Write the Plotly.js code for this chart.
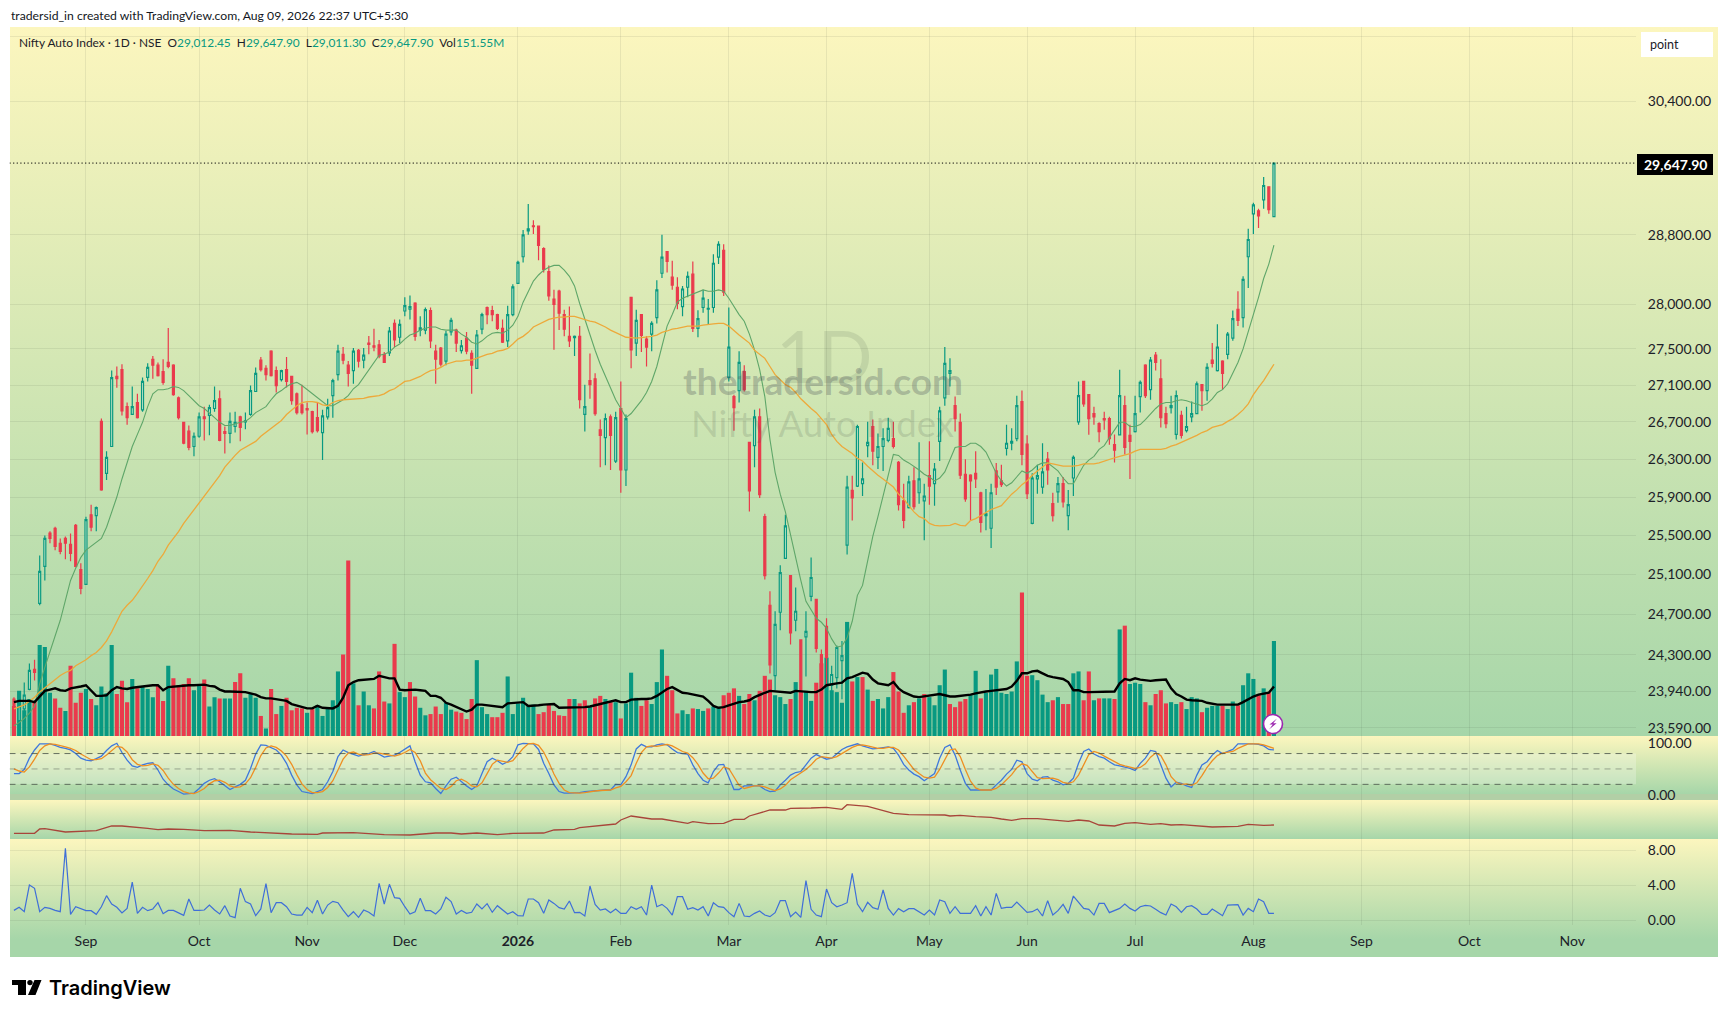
<!DOCTYPE html>
<html><head><meta charset="utf-8">
<script src="https://cdn.plot.ly/plotly-3.0.1.min.js"></script>
<style>
html,body{margin:0;padding:0;background:#fff;width:1728px;height:1018px;overflow:hidden}
.bg{position:absolute;left:10px;width:1708px}
#plot{position:absolute;left:0;top:0;width:1728px;height:1018px}
svg.deco{position:absolute;left:0;top:0;pointer-events:none}
</style></head><body>
<div class="bg" style="top:27px;height:709px;background:linear-gradient(#fcf6be,#a6d6a9)"></div>
<div class="bg" style="top:736px;height:58px;background:linear-gradient(#fcf6be,#a6d6a9)"></div>
<div class="bg" style="top:794px;height:6px;background:#b2cfa6"></div>
<div class="bg" style="top:800px;height:39px;background:linear-gradient(#fcf6be,#a6d6a9)"></div>
<div class="bg" style="top:839px;height:118px;background:linear-gradient(#fcf6be 0%,#a6d6a9 85%,#a6d6a9 100%)"></div>
<div id="plot"></div>
<svg class="deco" width="1728" height="1018">
<path d="M12 980H26V995H18V985H12Z M34.5 980H41.5L35.5 995H28Z" fill="#000"/><circle cx="30" cy="982.6" r="2.7" fill="#000"/>
<circle cx="1273" cy="724" r="9.5" fill="#fff" stroke="#9c27b0" stroke-width="1.6"/>
<path d="M1277 718.5L1269.5 724.6H1272.8L1269 729.5L1276.6 723.2H1273.2Z" fill="#9c27b0"/>
</svg>
<script>
const open_=[23866,23660,23772,23961,24155,24810,25183,25525,25573,25420,
25470,25408,25605,25150,25000,25715,25705,26705,26150,26435,
27195,27270,26865,26780,26910,26830,27185,27385,27320,27250,
27350,27320,26960,26695,26600,26435,26545,26755,26770,26845,
26950,26595,26575,26650,26755,26700,26780,27030,27375,27285,
27475,27260,27160,27270,27195,27005,26885,26845,26810,26745,
26585,26755,26985,27215,27440,27320,27260,27485,27375,27565,
27535,27545,27440,27455,27785,27630,27925,27945,28015,27710,
27710,27930,27475,27510,27365,27690,27710,27480,27620,27450,
27285,27720,27965,27930,27885,27730,27590,27885,28240,28545,
28845,28905,28900,28640,28375,28060,28150,27885,27640,27625,
27640,26780,27150,27170,26615,26530,26755,26280,26845,26185,
28080,27565,27885,27610,27665,27850,28355,28605,28310,28195,
27975,28195,28345,27730,27965,27945,27965,28540,28620,27185,
26975,27040,27250,26480,26445,26755,25695,24790,24095,24720,
25265,25090,24640,24445,24475,24880,24850,24300,24580,24000,
24075,24240,25400,25970,26015,26040,26445,26650,26320,26435,
26500,26520,26265,25860,25790,26070,25945,25860,26125,26040,
26490,26960,27230,26875,26695,26140,26130,26150,25945,25705,
25575,26175,26070,26415,26470,26520,26920,26460,25625,26090,
26005,26300,25830,25955,26040,25705,26100,26700,27140,26995,
26790,26680,26735,26735,26455,26560,26875,26555,26595,26975,
27320,27050,27430,27170,26790,26855,26565,26770,26605,26755,
26790,27105,27040,27375,27260,27365,27440,27620,27945,27850,
28545,29045,29080,29210,29365,29012.45];
const high=[23885,23847,24027,24212,24250,25295,25500,25545,25590,25470,
25490,25520,25620,25215,25695,25820,25800,26735,26385,27260,
27305,27330,26910,27085,27005,27185,27340,27420,27350,27385,
27735,27330,26975,26700,26660,26585,26800,26865,26885,27085,
27040,26650,26800,26810,26765,26800,27095,27295,27410,27320,
27485,27305,27270,27410,27200,27020,27105,26910,26820,26910,
26830,26950,27170,27545,27520,27365,27510,27500,27510,27645,
27725,27600,27465,27745,27830,27830,28080,28100,28025,27865,
27965,27965,27545,27520,27700,27850,27725,27600,27690,27485,
27710,27905,27975,27985,27895,27830,27985,28230,28500,28855,
29160,28970,28900,28655,28445,28165,28165,27940,27975,27650,
27755,27105,27450,27230,26725,26790,26780,26810,27140,26780,
28085,27940,27890,27640,27810,28275,28800,28610,28500,28310,
28210,28375,28490,27935,28165,28060,28575,28725,28690,27965,
26995,27475,27320,26480,26830,26845,25725,24930,24730,25195,
25715,25095,24970,24445,24730,25275,24855,24350,24660,24190,
24390,24435,26125,26125,26670,26265,26700,26725,26575,26630,
26745,26700,26280,26040,26125,26215,26480,26040,26490,26260,
26865,27520,27395,26975,26790,26300,26140,26385,25955,25985,
26040,26260,26240,26670,26630,26985,27040,26555,26150,26240,
26470,26375,25945,26110,26110,25975,26340,27140,27140,26995,
26865,26695,26810,26755,26565,27270,26985,26670,26985,27150,
27330,27410,27465,27385,26865,26985,27040,26820,26865,26920,
27140,27105,27340,27565,27775,27375,27690,27930,28150,28320,
28870,29175,29105,29480,29365,29647.9];
const low=[23715,23640,23725,23952,24046,24790,25040,25420,25347,25306,
25255,25235,25175,24900,24995,25545,25545,25965,26080,26430,
27070,26770,26670,26775,26735,26810,27140,27170,27195,27105,
27285,26985,26725,26460,26395,26330,26530,26500,26555,26810,
26490,26360,26470,26585,26490,26620,26765,27025,27250,27150,
27195,27020,27140,27075,26885,26780,26780,26565,26575,26585,
26290,26725,26745,27150,27330,27085,27115,27295,27285,27440,
27475,27395,27345,27420,27520,27565,27865,27830,27590,27640,
27665,27510,27115,27305,27320,27650,27465,27450,27440,27005,
27280,27665,27775,27810,27710,27565,27520,27865,28235,28480,
28800,28810,28505,28365,28040,27490,27710,27640,27520,27420,
26845,26595,26950,26765,26215,26235,26185,26260,25945,26015,
27285,27420,27465,27305,27475,27785,28300,28365,28165,27945,
27865,28080,27690,27630,27905,27775,27905,28460,28095,27140,
26605,26910,27030,25750,26215,25890,25050,24115,23950,24540,
25260,24400,24530,23800,24085,24830,24320,23800,23980,23865,
23970,23865,25305,25655,26005,25910,26320,26235,26195,26175,
26480,26415,25760,25575,25780,25770,25830,25450,25820,25810,
26280,26875,27085,26595,26090,25850,25655,25995,25530,25555,
25370,25920,26005,26340,26395,26490,26235,25880,25615,25935,
25935,26030,25645,25840,25790,25555,25910,26670,26865,26560,
26670,26480,26615,26455,26265,26555,26350,26090,26585,26800,
26960,26940,27260,26640,26630,26790,26510,26520,26585,26695,
26785,26820,26930,27295,27250,27050,27385,27590,27755,27740,
28185,28810,28880,29105,29045,29011.3];
const close_=[23772,23800,23904,24145,24125,25132,25470,25470,25388,25337,
25420,25316,25183,24960,25665,25585,25790,25975,26320,27183,
27170,26820,26745,26865,26745,27140,27295,27320,27205,27130,
27305,26995,26745,26470,26425,26545,26755,26735,26855,26930,
26500,26575,26705,26695,26640,26710,27040,27230,27270,27215,
27205,27095,27260,27140,26930,26800,26800,26830,26595,26605,
26765,26855,27150,27475,27375,27230,27475,27365,27430,27550,
27520,27420,27350,27700,27600,27775,27985,27975,27640,27735,
27940,27590,27385,27330,27665,27820,27565,27535,27475,27320,
27655,27885,27885,27885,27730,27575,27885,28200,28480,28800,
28870,28895,28675,28400,28095,28000,27900,27720,27590,27640,
26940,26865,27105,26790,26555,26735,26555,26745,26185,26735,
27490,27820,27650,27520,27785,28165,28540,28490,28220,28010,
28175,28320,27730,27840,28070,27955,28470,28690,28140,27520,
26855,27350,27050,25965,26755,25925,25090,24200,24600,25120,
25600,24515,24730,23900,24530,25070,24360,23900,24270,24105,
24370,24290,26005,25890,26650,26090,26480,26385,26435,26520,
26630,26435,25820,25655,26060,25800,26090,25910,26015,26195,
26820,27340,27260,26735,26130,25880,26070,26090,25635,25725,
25945,26005,26030,26470,26490,26875,26350,25935,26100,26125,
26165,26185,25705,26040,25850,25820,26320,26985,26895,26735,
26755,26595,26720,26520,26395,26985,26425,26490,26790,27130,
26985,27375,27350,26745,26680,26875,26985,26555,26650,26790,
27115,27040,27295,27340,27520,27230,27665,27840,27820,28285,
28745,29150,29020,29380,29095,29647.9];
const ma20=[23610,23640,23680,23730,23800,24015,24175,24330,24475,24640,
24840,25040,25165,25275,25350,25390,25430,25470,25585,25745,
25900,26090,26265,26435,26565,26695,26865,27005,27050,27050,
27060,27085,27075,27040,26985,26930,26875,26845,26800,26745,
26695,26660,26660,26680,26695,26705,26745,26800,26830,26865,
26940,27005,27040,27085,27115,27130,27095,27050,27005,26960,
26910,26875,26875,26910,26940,26985,27060,27105,27185,27270,
27350,27430,27440,27465,27520,27555,27610,27655,27675,27710,
27730,27745,27745,27720,27710,27710,27710,27665,27630,27575,
27555,27590,27640,27675,27685,27675,27710,27765,27865,28025,
28140,28265,28335,28390,28425,28445,28445,28390,28320,28210,
28010,27830,27655,27485,27330,27195,27060,26940,26845,26745,
26790,26865,26930,27020,27140,27305,27545,27755,27885,28025,
28070,28095,28115,28140,28165,28150,28150,28165,28150,28070,
27975,27885,27810,27665,27490,27270,26975,26510,26160,25930,
25745,25500,25265,25040,24830,24740,24660,24620,24560,24455,
24375,24385,24465,24630,24890,24990,25245,25490,25695,25910,
26140,26350,26340,26290,26260,26225,26185,26140,26110,26070,
26100,26165,26300,26425,26435,26435,26470,26470,26435,26375,
26265,26150,26070,26015,26050,26110,26175,26150,26185,26235,
26260,26260,26215,26175,26100,26040,26040,26140,26235,26290,
26330,26405,26445,26530,26620,26695,26695,26650,26650,26670,
26725,26790,26845,26895,26910,26910,26930,26940,26930,26910,
26895,26875,26895,26950,27020,27050,27115,27240,27350,27500,
27685,27895,28080,28295,28460,28680];
const ma50=[23772,23790,23810,23845,23885,23935,23975,24015,24055,24095,
24125,24145,24190,24220,24250,24290,24320,24370,24435,24525,
24630,24730,24790,24840,24910,24980,25060,25140,25235,25305,
25400,25470,25540,25625,25695,25770,25840,25910,25985,26060,
26125,26215,26280,26340,26395,26425,26455,26490,26545,26585,
26630,26670,26715,26780,26830,26875,26910,26920,26920,26910,
26885,26875,26910,26930,26940,26945,26950,26950,26955,26970,
26975,26985,27005,27040,27060,27105,27140,27150,27170,27195,
27230,27260,27270,27295,27330,27350,27365,27365,27375,27375,
27395,27420,27440,27450,27475,27485,27505,27555,27610,27640,
27685,27745,27775,27800,27830,27845,27855,27855,27865,27865,
27845,27830,27810,27800,27775,27745,27710,27685,27655,27630,
27625,27620,27625,27630,27640,27655,27685,27700,27720,27730,
27745,27755,27755,27755,27765,27775,27780,27785,27785,27755,
27700,27655,27610,27565,27485,27440,27395,27305,27215,27160,
27105,27075,27020,26950,26895,26845,26800,26735,26670,26565,
26490,26435,26395,26360,26310,26280,26225,26175,26130,26090,
26050,26005,25930,25880,25810,25745,25695,25675,25625,25605,
25600,25600,25605,25625,25605,25600,25655,25675,25705,25735,
25770,25790,25810,25870,25930,25975,26030,26070,26130,26175,
26215,26260,26250,26240,26225,26225,26225,26235,26250,26250,
26250,26260,26280,26300,26315,26330,26345,26360,26385,26405,
26405,26405,26405,26405,26415,26440,26455,26480,26500,26530,
26555,26585,26605,26640,26655,26670,26705,26735,26780,26830,
26895,26995,27075,27150,27240,27330];
const volume=[48,72,41,59,55,145,142,69,60,45,
40,112,53,69,75,59,49,79,68,145,
67,88,54,91,76,79,75,62,80,56,
112,92,81,83,92,73,80,90,47,62,
60,60,60,86,100,61,67,61,32,12,
75,35,48,61,41,45,44,37,43,49,
32,43,57,103,130,280,84,49,71,49,
44,103,55,52,147,70,62,86,63,45,
33,35,47,35,53,42,39,37,27,59,
121,46,35,30,30,37,95,35,52,61,
49,50,35,38,50,40,33,32,59,59,
52,57,46,60,64,59,54,54,28,52,
101,61,48,57,51,86,138,96,73,36,
41,35,44,43,40,44,47,45,65,69,
76,64,51,67,57,72,96,90,65,62,
51,59,86,71,72,56,85,116,125,73,
70,53,182,87,94,94,74,56,59,44,
62,102,71,37,49,54,60,67,62,49,
81,106,51,46,55,59,67,104,60,69,
98,107,69,67,71,119,229,96,97,89,
66,54,57,62,51,51,100,103,57,103,
57,60,60,60,59,170,176,83,85,83,
54,49,67,73,52,54,51,54,43,62,
60,38,45,48,48,48,43,55,49,81,
100,91,66,76,70,151.55];
const volDir=("rgggrgggrr"+"grrrgrgggg"+"rrrgrgggrr"+"grrrrggrgg"+"rggrrgggrg"+"rrgrrrrgrg"+
"ggggrrgrgg"+"rrrgrggrrg"+"grrrggrrrr"+"gggrrrgggg"+"ggrrrrrrrg"+"rrgrrgrgrg"+
"ggrrgggrrr"+"ggrggrggrr"+"rgrrgrrrgg"+"grgrggrrgg"+"gggrgrgrgg"+"grrrgrgrgg"+
"ggrrrrggrg"+"ggggggrrgg"+"ggrgrrggrr"+"grggrgrggg"+"rgrrrggrgg"+"grgggrggrg"+"ggrgrg").split("");
const volMA=[54,56,56,56,54,63,72,74,76,73,
72,76,77,79,81,73,64,64,65,73,
78,76,75,77,78,80,81,81,81,73,
78,79,80,80,81,81,81,82,80,79,
74,71,71,71,71,70,68,66,62,60,
60,59,58,56,51,49,46,44,44,48,
45,45,44,48,61,81,86,89,90,91,
91,96,94,92,92,74,73,74,74,73,
72,64,64,61,53,50,46,43,39,42,
50,50,49,48,46,46,52,53,54,54,
48,48,49,50,50,51,45,45,45,45,
45,46,47,49,50,52,54,57,54,54,
58,59,59,59,60,64,70,75,78,73,
69,68,66,65,63,56,48,45,46,49,
52,54,55,57,62,66,69,72,71,70,
69,69,72,71,70,70,70,74,81,83,
84,85,92,94,97,101,99,90,84,82,
81,86,76,70,66,63,62,63,64,65,
67,65,63,63,64,64,66,68,70,71,
72,73,73,75,79,88,100,100,103,104,
100,96,94,93,91,86,73,73,70,70,
70,70,71,71,71,84,91,89,92,90,
89,88,89,90,90,76,67,63,58,57,
56,56,53,51,50,50,50,50,50,54,
59,63,66,68,69,79];
const stochK=[41,41,49,71,87,99,99,99,96,92,
90,87,80,71,67,66,70,75,86,95,
100,82,67,56,53,58,61,62,48,30,
19,11,6,1,2,3,12,22,28,31,
25,17,10,15,20,28,51,79,97,96,
92,87,77,61,38,19,6,4,2,6,
10,25,45,74,87,82,79,75,78,80,
84,79,73,75,77,82,88,95,64,38,
25,23,12,2,17,30,34,25,17,10,
17,41,64,71,66,59,64,74,97,100,
100,99,88,61,41,19,6,3,3,3,
4,6,7,8,8,9,9,20,19,35,
58,89,98,93,93,97,99,97,89,82,
80,79,58,41,28,23,45,58,59,35,
10,10,17,17,17,17,10,6,7,19,
28,38,43,45,58,71,78,73,69,71,
80,88,93,96,99,95,92,89,90,92,
93,90,77,59,48,40,35,27,34,41,
71,92,97,77,48,22,9,9,9,9,
9,19,28,40,49,67,64,41,30,27,
34,35,28,25,19,22,32,61,84,89,
79,74,71,64,58,56,54,51,47,61,
71,86,84,58,32,15,24,22,17,14,
38,58,64,77,86,80,84,88,99,99,
100,99,98,95,88,87];
const stochD=[50,46,44,54,69,86,95,99,98,96,
93,90,86,79,73,68,68,70,77,85,
94,92,83,68,59,56,57,60,57,47,
32,20,12,6,3,2,6,12,21,27,
28,24,17,14,15,21,33,53,76,91,
95,92,85,75,59,39,21,10,4,4,
6,14,27,48,69,81,83,79,77,78,
81,81,79,76,75,78,82,88,82,66,
42,29,20,12,10,16,27,30,25,17,
15,23,41,59,67,65,63,66,78,90,
99,100,96,83,63,40,22,9,4,3,
3,4,6,7,8,8,9,13,16,25,
37,61,82,93,95,94,96,98,95,89,
84,81,72,59,42,31,32,42,54,51,
35,18,12,15,17,17,15,11,8,11,
18,29,36,42,49,58,69,74,73,71,
74,80,87,92,96,97,95,92,90,90,
92,92,87,75,61,49,41,34,32,34,
49,68,87,89,74,49,26,13,9,9,
9,12,19,29,39,52,60,57,45,33,
31,32,32,29,24,22,25,38,59,78,
84,81,75,70,64,59,56,54,51,53,
60,73,81,76,58,35,24,20,21,18,
23,37,53,66,76,81,83,84,90,95,
99,99,99,97,94,90];
const atrBars=[0,4,5,6,10,13,16,19,21,26,28,30,33,37,42,46,49,54,59,60,66,72,77,82,85,87,90,94,97,103,105,109,
110,113,117,118,120,124,126,131,132,135,138,140,142,143,147,150,151,155,158,161,162,166,171,174,178,181,182,184,187,190,192,194,196,199,205,207,209,211,214,216,218,221,
223,225,227,231,233,238,240,243,245];
const atrVal=[17,17,30,31,21,23,25,39,39,32,28,30,29,25,26,21,18,15,14,18,19,13,12,18,18,15,18,13,17,18,27,29,
34,39,45,57,69,60,60,47,52,46,47,59,59,69,87,87,92,93,95,89,103,98,77,73,73,72,69,71,67,65,60,56,61,61,53,57,54,42,39,47,49,44,
46,42,43,37,36,38,44,41,42];
const dailyPct=[1.10,1.45,.95,4.0,3.62,.95,1.45,1.33,1.1,.95,
8.19,.65,1.52,1.3,1.07,1.07,.65,1.52,2.78,1.83,
1.45,.80,1.33,4.34,.76,1.45,1.07,1.26,1.98,.72,
1.1,1.1,.80,.53,2.4,1.1,1.1,1.14,1.71,1.14,
.69,1.64,.46,.27,3.62,2.1,1.83,.5,1.26,4.15,
.84,1.98,1.98,1.52,.69,.57,.57,1.45,.84,2.25,
.69,1.71,2.13,1.98,1.14,.38,.95,.3,1.14,.88,
.46,4.19,1.83,4.08,2.55,2.48,1.52,.69,.95,2.48,
1.07,1.07,.69,1.26,2.6,2.1,.69,1.1,.76,.88,
1.83,1.26,1.87,.88,1.64,1.14,.69,.95,.5,.46,
2.4,2.4,1.98,.76,2.29,1.9,1.41,1.26,2.17,.84,
.88,.46,3.89,1.79,1.14,1.26,.84,1.26,.76,.76,
1.52,1.22,1.52,.57,4.0,1.52,1.79,1.33,.57,2.67,
2.67,1.22,1.41,1.14,1.52,.46,1.98,1.52,1.45,.84,
.38,1.9,.46,.38,.76,1.03,.57,.38,.84,2.21,
2.21,.38,.91,.3,4.5,1.22,.57,.38,3.54,1.98,
1.52,1.71,1.98,5.33,1.83,.95,2.02,1.41,1.22,3.43,
1.33,.57,1.3,.95,1.3,1.3,.95,.57,1.14,.57,
2.29,2.1,.76,1.52,.76,.76,.76,1.64,.46,1.52,
.57,3.05,1.33,1.45,1.45,2.06,1.52,.88,.95,1.26,
.46,2.21,.57,1.07,1.79,.76,2.74,1.98,1.33,1.22,
.57,1.9,1.9,.84,1.07,1.33,1.83,1.33,1.03,1.52,
1.68,1.6,1.22,.84,.57,1.83,1.52,.88,1.52,1.64,
1.26,.65,.65,1.26,.88,.5,1.71,1.71,1.75,.57,
1.33,.95,2.4,2.1,.76,.76];
const monthBars=[14,36,57,76,98,118,139,158,178,197,218,241,262,283,303];
const monthLabels=["Sep","Oct","Nov","Dec","<b>2026</b>","Feb","Mar","Apr","May","Jun","Jul","Aug","Sep","Oct","Nov"];
const priceTicks=[23590,23940,24300,24700,25100,25500,25900,26300,26700,27100,27500,28000,28800,30400,31200];
const priceLabels=["23,590.00","23,940.00","24,300.00","24,700.00","25,100.00","25,500.00","25,900.00","26,300.00","26,700.00","27,100.00","27,500.00","28,000.00","28,800.00","30,400.00"," "];

const W=1728,H=1018,fx=p=>p/W,fy=p=>1-p/H;
const bars=close_.map((_,i)=>i);
const GREEN="#089981",RED="#ea3a4c",GRID="rgba(50,70,50,0.09)",INK="#1c2128",FONT="Lato,'Noto Sans',sans-serif";
const XR=[-0.87,315.4];
const xBase=a=>Object.assign({domain:[fx(9.5),fx(1636)],range:XR,tickmode:"array",tickvals:monthBars,ticktext:monthLabels,showticklabels:false,showgrid:true,gridcolor:GRID,gridwidth:1,zeroline:false,showline:false,ticks:"",fixedrange:true},a);
const traces=[
{type:"bar",x:bars,y:volume,xaxis:"x",yaxis:"y",marker:{color:volDir.map(d=>d==="g"?GREEN:RED),line:{width:0}},hoverinfo:"skip",showlegend:false},
{type:"candlestick",x:bars,open:open_,high:high,low:low,close:close_,xaxis:"x",yaxis:"y5",whiskerwidth:0,hoverinfo:"skip",showlegend:false,
 increasing:{line:{color:GREEN,width:1.2},fillcolor:"rgba(222,242,214,0.75)"},decreasing:{line:{color:RED,width:1.2},fillcolor:RED}},
{type:"scatter",mode:"lines",x:bars,y:ma20,xaxis:"x",yaxis:"y5",line:{color:"#5fa669",width:1.1},hoverinfo:"skip",showlegend:false},
{type:"scatter",mode:"lines",x:bars,y:ma50,xaxis:"x",yaxis:"y5",line:{color:"#eda93a",width:1.3},hoverinfo:"skip",showlegend:false},
{type:"scatter",mode:"lines",x:XR,y:[close_[close_.length-1],close_[close_.length-1]],xaxis:"x",yaxis:"y5",line:{color:"#000",width:1,dash:"1.2px 2.4px"},hoverinfo:"skip",showlegend:false},
{type:"scatter",mode:"lines",x:bars,y:volMA,xaxis:"x",yaxis:"y6",line:{color:"#000",width:2.4},hoverinfo:"skip",showlegend:false},
{type:"scatter",mode:"lines",x:bars,y:stochK,xaxis:"x2",yaxis:"y2",line:{color:"#3f78dc",width:1.3},hoverinfo:"skip",showlegend:false},
{type:"scatter",mode:"lines",x:bars,y:stochD,xaxis:"x2",yaxis:"y2",line:{color:"#ee8f22",width:1.3},hoverinfo:"skip",showlegend:false},
{type:"scatter",mode:"lines",x:atrBars,y:atrVal,xaxis:"x3",yaxis:"y3",line:{color:"#a8453a",width:1.3},hoverinfo:"skip",showlegend:false},
{type:"scatter",mode:"lines",x:bars,y:dailyPct,xaxis:"x4",yaxis:"y4",line:{color:"#3f6fd8",width:1.2},hoverinfo:"skip",showlegend:false}
];
const note=(text,px,py,font)=>({xref:"paper",yref:"paper",x:fx(px),y:fy(py),text:text,showarrow:false,xanchor:"left",yanchor:"middle",font:font,borderpad:0});
const mid=(text,px,py,font)=>({xref:"paper",yref:"paper",x:fx(px),y:fy(py),text:text,showarrow:false,xanchor:"center",yanchor:"middle",font:font,borderpad:0});
const box=(x0,x1,y0,y1,c)=>({type:"rect",xref:"paper",yref:"paper",x0:fx(x0),x1:fx(x1),y0:fy(y1),y1:fy(y0),fillcolor:c,line:{width:0},layer:"above"});
const g=s=>`<span style="color:${GREEN}">${s}</span>`;
const axisFont={family:FONT,size:14,color:INK};
const layout={
 width:W,height:H,margin:{l:0,r:0,t:0,b:0},paper_bgcolor:"rgba(0,0,0,0)",plot_bgcolor:"rgba(0,0,0,0)",
 showlegend:false,bargap:0.2,boxgap:0.45,hovermode:false,
 xaxis:xBase({anchor:"y",rangeslider:{visible:false}}),
 xaxis2:xBase({anchor:"y2"}),
 xaxis3:xBase({anchor:"y3"}),
 xaxis4:xBase({anchor:"y4",showticklabels:true,tickfont:axisFont,ticks:"outside",ticklen:3,tickcolor:"rgba(0,0,0,0)"}),
 yaxis:{domain:[fy(736),fy(27)],range:[0,1131],visible:false,fixedrange:true},
 yaxis5:{overlaying:"y",anchor:"x",side:"right",type:"log",range:[4.3713,4.49591],tickmode:"array",tickvals:priceTicks,ticktext:priceLabels,tickfont:axisFont,showgrid:true,gridcolor:GRID,zeroline:false,ticks:"outside",ticklen:8,tickcolor:"rgba(0,0,0,0)",fixedrange:true},
 yaxis6:{overlaying:"y",anchor:"x",range:[0,1131],visible:false,fixedrange:true},
 yaxis2:{domain:[fy(800),fy(736)],anchor:"x2",side:"right",range:[-10.5,114.2],tickmode:"array",tickvals:[0,100],ticktext:["0.00","100.00"],tickfont:axisFont,showgrid:false,zeroline:false,ticks:"outside",ticklen:8,tickcolor:"rgba(0,0,0,0)",fixedrange:true},
 yaxis3:{domain:[fy(839),fy(800)],anchor:"x3",side:"right",range:[0,117],showticklabels:false,showgrid:false,zeroline:false,fixedrange:true},
 yaxis4:{domain:[fy(925),fy(839)],anchor:"x4",side:"right",range:[-0.57,9.26],tickmode:"array",tickvals:[0,4,8],ticktext:["0.00","4.00","8.00"],tickfont:axisFont,showgrid:true,gridcolor:GRID,zeroline:false,ticks:"outside",ticklen:8,tickcolor:"rgba(0,0,0,0)",fixedrange:true},
 shapes:[
  {type:"rect",xref:"x2",yref:"y2",x0:XR[0],x1:XR[1],y0:20,y1:80,fillcolor:"rgba(255,255,255,0.24)",line:{width:0},layer:"below"},
  {type:"line",xref:"x2",yref:"y2",x0:XR[0],x1:XR[1],y0:80,y1:80,line:{color:"rgba(70,80,70,0.8)",width:1,dash:"6px 5px"}},
  {type:"line",xref:"x2",yref:"y2",x0:XR[0],x1:XR[1],y0:50,y1:50,line:{color:"rgba(70,80,70,0.45)",width:1,dash:"6px 5px"}},
  {type:"line",xref:"x2",yref:"y2",x0:XR[0],x1:XR[1],y0:20,y1:20,line:{color:"rgba(70,80,70,0.8)",width:1,dash:"6px 5px"}},
  box(1641,1713,32,57,"#ffffff"),
  box(1637,1713,154,175,"#000000")
 ],
 annotations:[
  note("tradersid_in created with TradingView.com, Aug 09, 2026 22:37 UTC+5:30",10,15,{family:FONT,size:12.2,color:"#131722"}),
  note("Nifty Auto Index · 1D · NSE  O"+g("29,012.45")+"  H"+g("29,647.90")+"  L"+g("29,011.30")+"  C"+g("29,647.90")+"  Vol"+g("151.55M"),18,42,{family:FONT,size:11.9,color:INK}),
  mid("1D",824,355,{family:FONT,size:72,color:"rgba(60,70,60,0.12)"}),
  mid("thetradersid.com",823,380,{family:FONT,size:37,color:"rgba(70,75,85,0.30)",weight:700}),
  mid("Nifty Auto Index",822,423,{family:FONT,size:36.5,color:"rgba(70,80,70,0.17)"}),
  note("point",1649,44.5,{family:FONT,size:12.5,color:INK}),
  mid("29,647.90",1675,164.5,{family:FONT,size:14,color:"#fff",weight:700}),
  note("TradingView",48,988,{family:"Inter,sans-serif",size:20,color:"#000",weight:600})
 ]
};
Plotly.newPlot("plot",traces,layout,{staticPlot:true,displayModeBar:false});
</script>
</body></html>
